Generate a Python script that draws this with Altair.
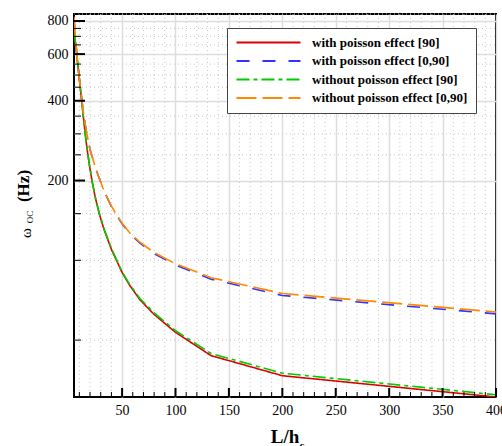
import altair as alt
import pandas as pd

# ---------------- data ----------------
L_h = [5, 5.7, 6.7, 8, 10, 11.1, 12.5, 13.3, 14.3, 15.4, 16.7, 18.2, 20, 22.2,
       25, 28.6, 33.3, 40, 50, 57.1, 66.7, 80, 100, 133.3, 200, 400]
with_poisson_90 = [745, 700, 640, 575, 485, 440, 390, 362, 332, 303, 274, 247, 221, 196,
                   172, 150, 130, 110, 90, 80.5, 71, 62.5, 53.5, 43.7, 36.7, 30.5]
with_poisson_0_90 = [830, 760, 670, 580, 485, 445, 400, 375, 350, 327, 305, 284, 262, 245,
                     224, 204, 182, 159.5, 137.3, 126.2, 116, 106, 96, 84.9, 73.7, 62.8]
without_poisson_90 = [740, 698, 638, 574, 485, 440, 390, 362, 332, 304, 275, 248, 222, 197,
                      173, 151, 131, 111, 90.6, 81.2, 71.8, 63.3, 54.3, 44.5, 37.5, 31.1]
without_poisson_0_90 = [830, 760, 670, 580, 485, 445, 400, 375, 350, 327, 305, 284, 262, 245,
                        224, 204, 182, 160, 138, 127, 117, 107, 97, 86, 75, 63.8]

series_names = ["with poisson effect [90]", "with poisson effect [0,90]",
                "without poisson effect [90]", "without poisson effect [0,90]"]
series_values = [with_poisson_90, with_poisson_0_90, without_poisson_90, without_poisson_0_90]
series_colors = ["#dd0000", "#3333ff", "#00cc00", "#ff8800"]
series_dashes = [[1, 0], [13, 13], [13, 4, 4, 4], [20, 6]]

x_minor_ticks = [v for v in range(10, 401, 10) if v % 50 != 0]
x_major_ticks = [50, 100, 150, 200, 250, 300, 350, 400]
y_minor_ticks = [v for v in range(50, 851, 50) if v % 200 != 0]
y_major_ticks = [200, 400, 600, 800]

rows = []
for k, (name, vals) in enumerate(zip(series_names, series_values)):
    for x, y in zip(L_h, vals):
        rows.append({"series": name, "k": k, "L": x, "w": y})
df = pd.DataFrame(rows)

# ---------------- layout ----------------
W, H = 422, 383
FONT = "Liberation Serif"

xs = alt.Scale(domain=[5, 400], nice=False, zero=False)
ys = alt.Scale(type="log", domain=[30.5, 850], nice=False)

x_axis = alt.Axis(
    values=x_major_ticks, title=None, domain=False, ticks=False,
    format="d", labelFont=FONT, labelFontSize=14, labelFontWeight="normal",
    labelColor="black", labelPadding=6,
    labelFlush=False, grid=True, gridColor="#dddddd", gridWidth=1.5,
)
y_axis = alt.Axis(
    values=y_major_ticks, title=None, domain=False, ticks=False,
    format="d", labelFont=FONT, labelFontSize=14, labelFontWeight="normal",
    labelColor="black", labelPadding=6,
    labelFlush=False, grid=True, gridColor="#dddddd", gridWidth=1.5,
)

legend = alt.Legend(
    title=None, orient="none", legendX=153, legendY=14,
    symbolType="M-1,0L11.8,0", symbolSize=100, symbolStrokeWidth=2,
    labelOffset=64, labelFont=FONT, labelFontSize=13, labelFontWeight="bold",
    labelColor="black", labelLimit=400,
    padding=8, rowPadding=4.5, strokeColor="#444444", fillColor="white",
)

X = lambda: alt.X("L:Q", scale=xs, axis=x_axis)
Y = lambda: alt.Y("w:Q", scale=ys, axis=y_axis)

# dotted minor grid
xgrid = alt.Chart(pd.DataFrame({"L": x_minor_ticks})).mark_rule(
    color="#c8c8c8", strokeWidth=1, strokeDash=[1, 3]).encode(
    x=X(), y=alt.value(0), y2=alt.value(H))
ygrid = alt.Chart(pd.DataFrame({"w": y_minor_ticks})).mark_rule(
    color="#c8c8c8", strokeWidth=1, strokeDash=[1, 3]).encode(
    y=Y(), x=alt.value(0), x2=alt.value(W))

lines = alt.Chart(df).mark_line(strokeWidth=1.6, clip=True).encode(
    x=X(),
    y=Y(),
    color=alt.Color("series:N", scale=alt.Scale(domain=series_names, range=series_colors),
                    legend=legend, sort=series_names),
    strokeDash=alt.StrokeDash("series:N", scale=alt.Scale(domain=series_names, range=series_dashes),
                              legend=legend, sort=series_names),
    order=alt.Order("k:Q"),
)

# inward ticks
xmaj = alt.Chart(pd.DataFrame({"L": x_major_ticks})).mark_rule(color="black", strokeWidth=2).encode(
    x=X(), y=alt.value(H), y2=alt.value(H - 9))
xmin = alt.Chart(pd.DataFrame({"L": x_minor_ticks})).mark_rule(color="black", strokeWidth=1).encode(
    x=X(), y=alt.value(H), y2=alt.value(H - 5))
ymaj = alt.Chart(pd.DataFrame({"w": y_major_ticks})).mark_rule(color="black", strokeWidth=2).encode(
    y=Y(), x=alt.value(0), x2=alt.value(11))
ymin = alt.Chart(pd.DataFrame({"w": y_minor_ticks})).mark_rule(color="black", strokeWidth=1).encode(
    y=Y(), x=alt.value(0), x2=alt.value(7))


def label(text, x, y, size, weight="normal", angle=0, align="center", baseline="middle"):
    return alt.Chart(pd.DataFrame({"t": [text]})).mark_text(
        font=FONT, fontSize=size, fontWeight=weight, angle=angle, align=align,
        baseline=baseline, color="black"
    ).encode(x=alt.value(x), y=alt.value(y), text="t:N")


titles = [
    label("ω", -48, 219, 15, angle=270),
    label("OC", -44, 203, 9, angle=270),
    label("(Hz)", -50, 172, 17, weight="bold", angle=270),
    label("L/h", 211, 429, 19, weight="bold", baseline="alphabetic"),
    label("c", 228, 435, 11, weight="bold", baseline="alphabetic"),
]

chart = alt.layer(xgrid, ygrid, lines, xmin, xmaj, ymin, ymaj, *titles).properties(
    width=W, height=H,
    padding={"left": 74, "top": 14, "right": 6, "bottom": 49},
    autosize=alt.AutoSizeParams(type="none"),
    background="white",
).configure_view(stroke="black", strokeWidth=2)

chart.save("out.html", embed_options={"renderer": "svg", "actions": False})
